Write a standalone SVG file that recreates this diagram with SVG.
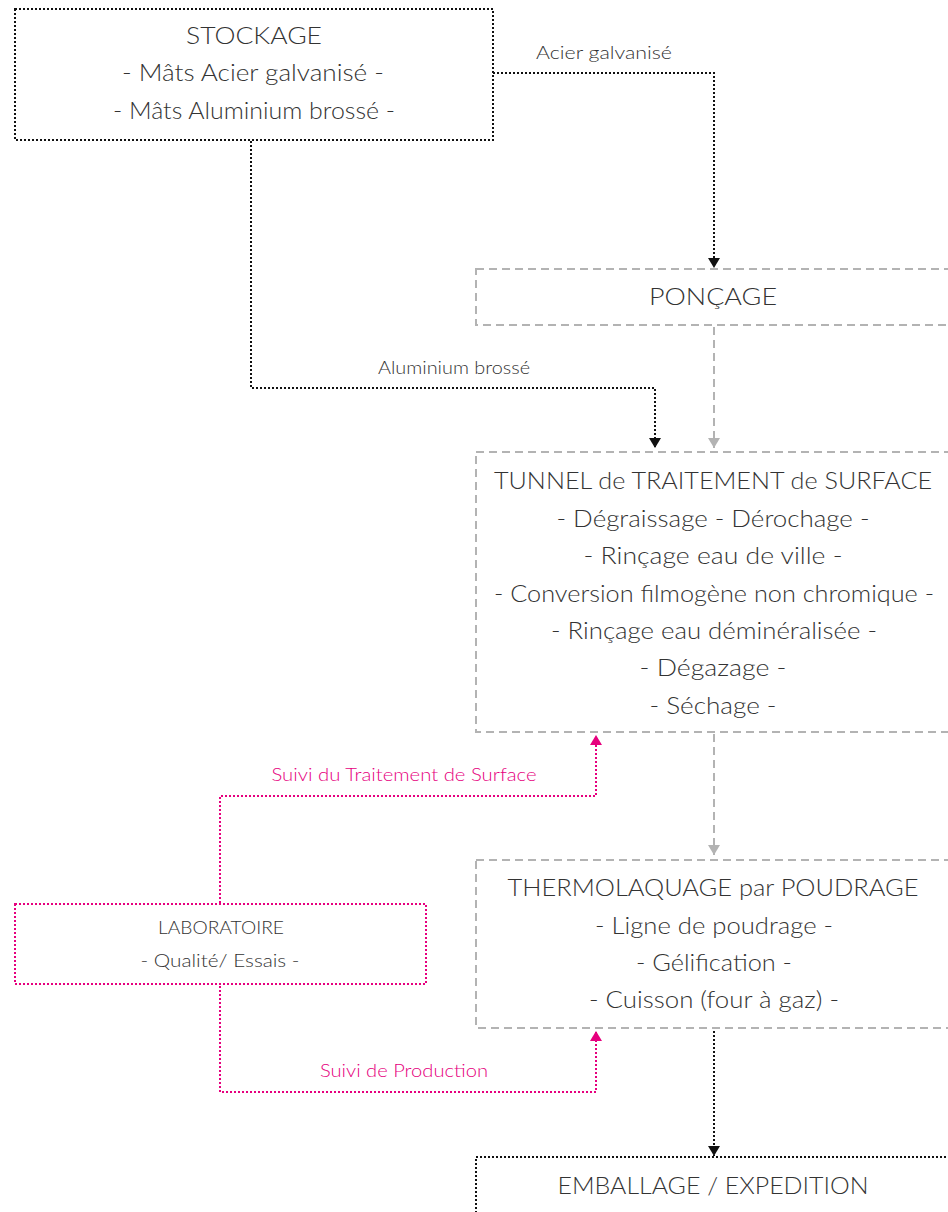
<svg xmlns="http://www.w3.org/2000/svg" width="948" height="1212" viewBox="0 0 948 1212">
<defs>
<style>
.t{font-family:"Lato","Liberation Sans",sans-serif;font-weight:300;fill:#333;text-anchor:middle}
.big{font-size:24px}
.lbl{font-size:18px}
.pk{fill:#e6007e}
.blk{fill:none;stroke:#111;stroke-width:2;stroke-dasharray:2 2}
.gry{fill:none;stroke:#b3b3b3;stroke-width:2;stroke-dasharray:8 5}
.pnk{fill:none;stroke:#e6007e;stroke-width:2;stroke-dasharray:2 2}
</style>
<marker id="ab" markerWidth="10" markerHeight="12" refX="10" refY="6" orient="auto" markerUnits="userSpaceOnUse" viewBox="0 0 10 12"><path d="M0,0 L10,6 L0,12 Z" fill="#111"/></marker>
<marker id="ag" markerWidth="10" markerHeight="12" refX="10" refY="6" orient="auto" markerUnits="userSpaceOnUse" viewBox="0 0 10 12"><path d="M0,0 L10,6 L0,12 Z" fill="#b3b3b3"/></marker>
<marker id="ap" markerWidth="10" markerHeight="12" refX="10" refY="6" orient="auto" markerUnits="userSpaceOnUse" viewBox="0 0 10 12"><path d="M0,0 L10,6 L0,12 Z" fill="#e6007e"/></marker>
</defs>
<rect width="948" height="1212" fill="#fff"/>
<g id="connectors">
<path class="blk" d="M493,73 H714 V268" marker-end="url(#ab)"/>
<text class="t lbl" x="604" y="59" textLength="136" lengthAdjust="spacingAndGlyphs">Acier galvanisé</text>
<path class="blk" d="M251,141 V388 H655 V448" marker-end="url(#ab)"/>
<text class="t lbl" x="454" y="374" textLength="152" lengthAdjust="spacingAndGlyphs">Aluminium brossé</text>
<path class="gry" d="M714,327 V448" marker-end="url(#ag)"/>
<path class="gry" d="M714,734 V855" marker-end="url(#ag)"/>
<path class="blk" d="M714,1031 V1156" marker-end="url(#ab)"/>
<path class="pnk" d="M220,903 V796 H596 V735" marker-end="url(#ap)"/>
<text class="t lbl pk" x="404" y="781" textLength="265" lengthAdjust="spacingAndGlyphs">Suivi du Traitement de Surface</text>
<path class="pnk" d="M220,986 V1092 H596 V1031" marker-end="url(#ap)"/>
<text class="t lbl pk" x="404" y="1077" textLength="168" lengthAdjust="spacingAndGlyphs">Suivi de Production</text>
</g>
<g id="stockage">
<rect class="blk" x="15" y="9" width="478" height="131"/>
<text class="t big" x="254" y="44" textLength="136" lengthAdjust="spacingAndGlyphs">STOCKAGE</text>
<text class="t big" x="253" y="81" textLength="262" lengthAdjust="spacingAndGlyphs">- Mâts Acier galvanisé -</text>
<text class="t big" x="254" y="119" textLength="282" lengthAdjust="spacingAndGlyphs">- Mâts Aluminium brossé -</text>
</g>
<g id="poncage">
<rect class="gry" x="476" y="269" width="480" height="56"/>
<text class="t big" x="713" y="305" textLength="128" lengthAdjust="spacingAndGlyphs">PONÇAGE</text>
</g>
<g id="tunnel">
<rect class="gry" x="476" y="452" width="480" height="280"/>
<text class="t big" x="713" y="489" textLength="438" lengthAdjust="spacingAndGlyphs">TUNNEL de TRAITEMENT de SURFACE</text>
<text class="t big" x="713" y="527" textLength="313" lengthAdjust="spacingAndGlyphs">- Dégraissage - Dérochage -</text>
<text class="t big" x="713" y="564" textLength="259" lengthAdjust="spacingAndGlyphs">- Rinçage eau de ville -</text>
<text class="t big" x="714" y="602" textLength="440" lengthAdjust="spacingAndGlyphs">- Conversion filmogène non chromique -</text>
<text class="t big" x="714" y="639" textLength="326" lengthAdjust="spacingAndGlyphs">- Rinçage eau déminéralisée -</text>
<text class="t big" x="713" y="676" textLength="147" lengthAdjust="spacingAndGlyphs">- Dégazage -</text>
<text class="t big" x="713" y="714" textLength="127" lengthAdjust="spacingAndGlyphs">- Séchage -</text>
</g>
<g id="thermo">
<rect class="gry" x="476" y="860" width="480" height="168"/>
<text class="t big" x="713" y="896" textLength="411" lengthAdjust="spacingAndGlyphs">THERMOLAQUAGE par POUDRAGE</text>
<text class="t big" x="714" y="934" textLength="238" lengthAdjust="spacingAndGlyphs">- Ligne de poudrage -</text>
<text class="t big" x="714" y="971" textLength="156" lengthAdjust="spacingAndGlyphs">- Gélification -</text>
<text class="t big" x="714" y="1008" textLength="250" lengthAdjust="spacingAndGlyphs">- Cuisson (four à gaz) -</text>
</g>
<g id="emballage">
<rect class="blk" x="476" y="1157" width="480" height="80"/>
<text class="t big" x="713" y="1194" textLength="311" lengthAdjust="spacingAndGlyphs">EMBALLAGE / EXPEDITION</text>
</g>
<g id="laboratoire">
<rect class="pnk" x="15" y="904" width="411" height="80"/>
<text class="t lbl" x="221" y="934" textLength="126" lengthAdjust="spacingAndGlyphs">LABORATOIRE</text>
<text class="t lbl" x="220" y="967" textLength="159" lengthAdjust="spacingAndGlyphs">- Qualité/ Essais -</text>
</g>
</svg>
